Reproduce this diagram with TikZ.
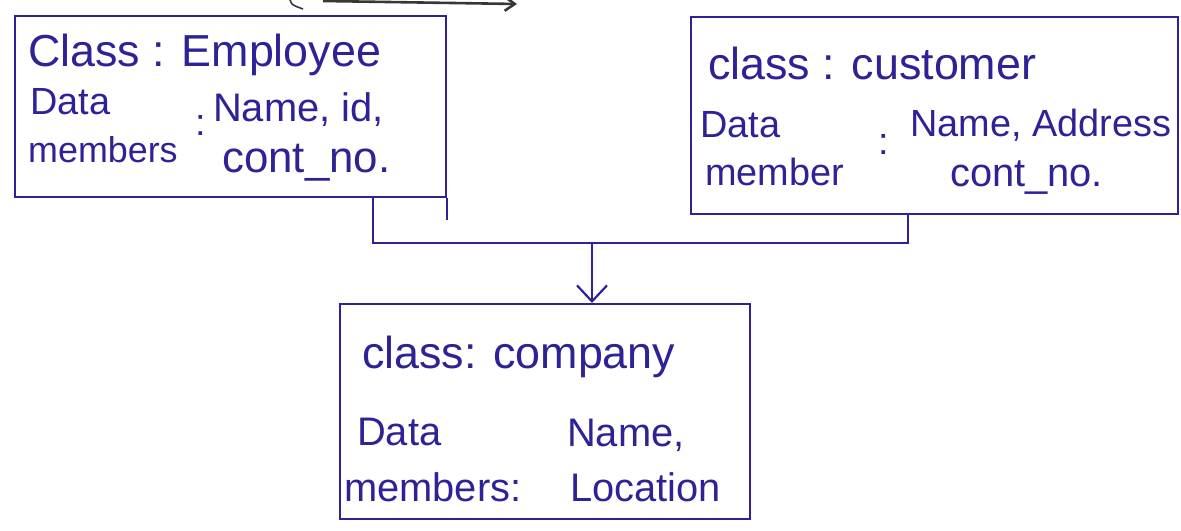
\documentclass[tikz,border=0pt]{standalone}
\usepackage{fontspec}
\setmainfont{Liberation Sans}
\usetikzlibrary{arrows.meta}
\definecolor{ink}{RGB}{45,35,150}
\definecolor{pencil}{RGB}{55,55,55}
\begin{document}
\begin{tikzpicture}[x=1bp,y=-1bp,
  classbox/.style={draw=ink, line width=2.2bp, rectangle, inner sep=0pt, anchor=north west},
  txt/.style={text=ink, anchor=west, inner sep=0pt, font=\fontsize{38}{42}\selectfont},
  title/.style={txt, font=\fontsize{45}{50}\selectfont},
  link/.style={draw=ink, line width=2.2bp},
  tip/.style={-{Straight Barb[length=16bp,width=30bp,line width=2.2bp]}}]
\useasboundingbox (0,0) rectangle (1181,531);

% stroke along the top edge
\draw[pencil, line width=1.6bp] (290,0) .. controls (292,5) .. (303,9);
\draw[pencil, line width=2.6bp, -{Straight Barb[length=10bp,width=14bp]}] (323,1) -- (517,4);

% class boxes
\node[classbox, minimum width=431bp, minimum height=181bp] (emp) at (14,15) {};
\node[classbox, minimum width=487bp, minimum height=197bp] (cust) at (690,16) {};
\node[classbox, minimum width=410bp, minimum height=215bp] (comp) at (339,303) {};

% Employee
\node[title] (empname) at (28,55) {Class : Employee};
\node[txt] (empd1) at (30,102) {Data};
\node[txt, font=\fontsize{36}{40}\selectfont] (empd2) at (28,150) {members};
\node[txt] (empcol) at (195,126) {:};
\node[txt, font=\fontsize{40}{44}\selectfont] (empv1) at (213,110) {Name, id,};
\node[txt, font=\fontsize{44}{48}\selectfont] (empv2) at (222,163) {cont\_no.};

% Customer
\node[title] (custname) at (708,63) {class : customer};
\node[txt] (custd1) at (700,125) {Data};
\node[txt] (custd2) at (705,172) {member};
\node[txt] (custcol) at (878,145) {:};
\node[txt] (custv1) at (910,125) {Name, Address};
\node[txt, font=\fontsize{40}{44}\selectfont] (custv2) at (950,178) {cont\_no.};

% Company
\node[title] (compname) at (362,357) {class: company};
\node[txt, font=\fontsize{40}{44}\selectfont] (compd1) at (357,432) {Data};
\node[txt, font=\fontsize{40}{44}\selectfont] (compd2) at (344,487) {members:};
\node[txt, font=\fontsize{40}{44}\selectfont] (compv1) at (567,435) {Name,};
\node[txt, font=\fontsize{40}{44}\selectfont] (compv2) at (570,487) {Location};

% connectors
\coordinate (j1) at (373,243);
\coordinate (j2) at (908,243);
\coordinate (jm) at (592,243);
\draw[link] (emp.south east) -- ++(0,22);
\draw[link] (emp.south -| j1) -- (j1) -- (j2) -- (cust.south -| j2);
\draw[link, tip] (jm) -- (comp.north -| jm);
\end{tikzpicture}
\end{document}
